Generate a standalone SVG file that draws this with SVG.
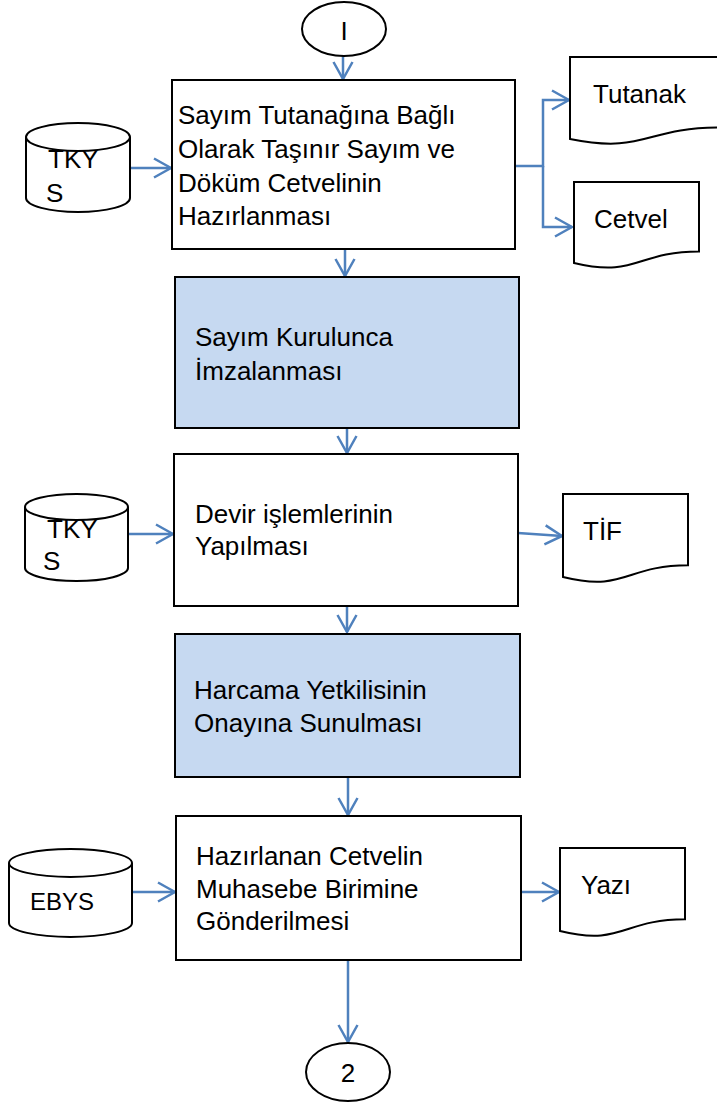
<svg xmlns="http://www.w3.org/2000/svg" width="717" height="1106" viewBox="0 0 717 1106">
<style>
.box{fill:#fff;stroke:#000;stroke-width:2}
.blue{fill:#C6D9F1;stroke:#000;stroke-width:2}
.shape{fill:#fff;stroke:#000;stroke-width:2}
.t{font-family:"Liberation Sans",Arial,sans-serif;font-size:26px;fill:#000}
.c{stroke:#4F81BD;stroke-width:2.5;fill:none;marker-end:url(#ah)}
</style>
<defs>
<marker id="ah" markerUnits="userSpaceOnUse" viewBox="0 0 20 22" refX="18" refY="11" markerWidth="20" markerHeight="22" orient="auto">
<path d="M1,1.5 L18,11 L1,20.5" fill="none" stroke="#4F81BD" stroke-width="2.5"/>
</marker>
</defs>
<rect width="717" height="1106" fill="#fff"/>
<g id="connectors">
<line class="c" x1="343" y1="56" x2="343" y2="79"/>
<line class="c" x1="345" y1="249" x2="345" y2="276"/>
<line class="c" x1="347" y1="428" x2="347" y2="453"/>
<line class="c" x1="347" y1="606" x2="347" y2="632"/>
<line class="c" x1="348" y1="777" x2="348" y2="815"/>
<line class="c" x1="348" y1="960" x2="348" y2="1042"/>
<line class="c" x1="130" y1="168" x2="171" y2="168"/>
<path class="c" d="M515,166 H543 V100 H569"/>
<path class="c" d="M543,166 V227 H572"/>
<line class="c" x1="128" y1="534" x2="173" y2="534"/>
<line class="c" x1="518" y1="533" x2="562" y2="536"/>
<line class="c" x1="132" y1="892" x2="175" y2="892"/>
<line class="c" x1="521" y1="892" x2="559" y2="892"/>
</g>
<g id="start">
<ellipse class="shape" cx="344" cy="29" rx="42" ry="27"/>
<text class="t" x="344" y="40" text-anchor="middle">I</text>
</g>
<g id="box1">
<rect class="box" x="172" y="80" width="343" height="169"/>
<text class="t" x="178" y="124">Sayım Tutanağına Bağlı</text>
<text class="t" x="178" y="158">Olarak Taşınır Sayım ve</text>
<text class="t" x="178" y="192">Döküm Cetvelinin</text>
<text class="t" x="178" y="225">Hazırlanması</text>
</g>
<g id="tkys1">
<path class="shape" d="M26,137 V198 A52,14 0 0 0 130,198 V137"/>
<ellipse class="shape" cx="78" cy="137" rx="52" ry="14"/>
<text class="t" x="48" y="168">TKY</text>
<text class="t" x="46" y="202">S</text>
</g>
<g id="tutanak">
<path class="shape" d="M570,57 H720 V127.4 C645,127.4 645,154.2 570,139 Z"/>
<text class="t" x="593" y="103">Tutanak</text>
</g>
<g id="cetvel">
<path class="shape" d="M574,182 H699 V251.5 C636.5,251.5 636.5,278 574,263 Z"/>
<text class="t" x="594" y="228">Cetvel</text>
</g>
<g id="box2">
<rect class="blue" x="175" y="277" width="344" height="151"/>
<text class="t" x="195" y="346">Sayım Kurulunca</text>
<text class="t" x="195" y="380">İmzalanması</text>
</g>
<g id="box3">
<rect class="box" x="174" y="454" width="344" height="152"/>
<text class="t" x="195" y="523">Devir işlemlerinin</text>
<text class="t" x="195" y="555">Yapılması</text>
</g>
<g id="tkys2">
<path class="shape" d="M25,507 V568 A51.5,13 0 0 0 128,568 V507"/>
<ellipse class="shape" cx="76.5" cy="507" rx="51.5" ry="13"/>
<text class="t" x="47" y="538">TKY</text>
<text class="t" x="43" y="570">S</text>
</g>
<g id="tif">
<path class="shape" d="M563,494 H688 V565.3 C625.5,565.3 625.5,592.4 563,577 Z"/>
<text class="t" x="583" y="540">TİF</text>
</g>
<g id="box4">
<rect class="blue" x="175" y="634" width="345" height="143"/>
<text class="t" x="194" y="699">Harcama Yetkilisinin</text>
<text class="t" x="194" y="732">Onayına Sunulması</text>
</g>
<g id="box5">
<rect class="box" x="176" y="816" width="345" height="144"/>
<text class="t" x="196" y="865">Hazırlanan Cetvelin</text>
<text class="t" x="196" y="898">Muhasebe Birimine</text>
<text class="t" x="196" y="930">Gönderilmesi</text>
</g>
<g id="ebys">
<path class="shape" d="M9,863 V923 A61.5,14 0 0 0 132,923 V863"/>
<ellipse class="shape" cx="70.5" cy="863" rx="61.5" ry="14"/>
<text class="t" x="30" y="910" style="font-size:24px">EBYS</text>
</g>
<g id="yazi">
<path class="shape" d="M560,848 H685 V919.3 C622.5,919.3 622.5,946.4 560,931 Z"/>
<text class="t" x="581" y="894">Yazı</text>
</g>
<g id="end">
<ellipse class="shape" cx="348" cy="1072" rx="42" ry="29"/>
<text class="t" x="348" y="1082" text-anchor="middle">2</text>
</g>
</svg>
